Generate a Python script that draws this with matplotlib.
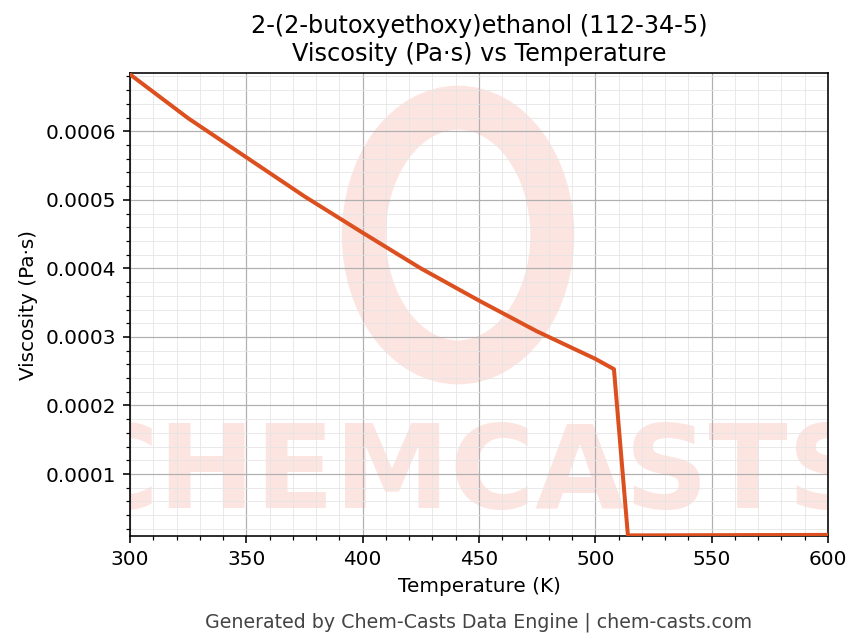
import numpy as np
import matplotlib.pyplot as plt
from matplotlib.patches import Ellipse
from matplotlib.ticker import AutoMinorLocator

temperature = [300, 325, 350, 375, 400, 425, 450, 475, 500, 508, 514, 550, 600]
viscosity = [0.000683, 0.000619, 0.000562, 0.000505, 0.000452, 0.000400, 0.000353, 0.000308, 0.000268, 0.000253,
             0.0000105, 0.0000108, 0.0000112]

fig = plt.figure(figsize=(863 / 144, 644 / 144), dpi=144)
ax = fig.add_axes([130 / 863, 1 - 536 / 644, 698 / 863, 463 / 644])

# watermark, clipped to the axes
wm = ax.text(0.49, 0.13, 'CHEMCASTS', transform=ax.transAxes, ha='center', va='center',
             fontsize=58, fontweight='bold', color='#fbd3cc', alpha=0.6, zorder=0, clip_on=True)
ax.add_patch(Ellipse((0.47, 0.65), 0.27, 0.55, transform=ax.transAxes, fill=False,
                     lw=22, ec='#fbd3cc', alpha=0.6, zorder=0))

ax.plot(temperature, viscosity, color='#dc4f1f', lw=2, zorder=3)
ax.set_xlim(300, 600)
ax.set_ylim(0.0000096, 0.000685)
ax.xaxis.set_minor_locator(AutoMinorLocator(5))
ax.yaxis.set_minor_locator(AutoMinorLocator(5))
ax.grid(which='major', color='#b0b0b0', lw=0.6)
ax.grid(which='minor', color='#e4e4e4', lw=0.4)
ax.set_xlabel('Temperature (K)')
ax.set_ylabel('Viscosity (Pa·s)')
ax.set_title('2-(2-butoxyethoxy)ethanol (112-34-5)\nViscosity (Pa·s) vs Temperature', fontsize=12)
fig.text(0.555, 0.025, 'Generated by Chem-Casts Data Engine | chem-casts.com',
         ha='center', fontsize=9.5, color='#444444')

fig.savefig('out.png', dpi=144)
